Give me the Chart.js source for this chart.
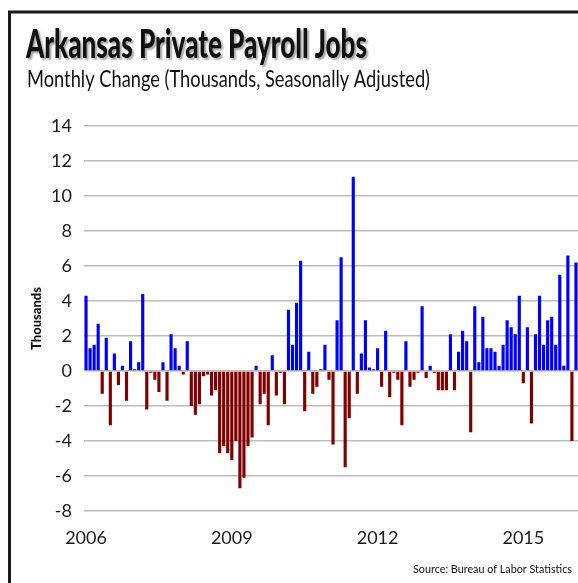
<!DOCTYPE html>
<html>
<head>
<meta charset="utf-8">
<title>Arkansas Private Payroll Jobs</title>
<script src="https://cdn.jsdelivr.net/npm/chart.js@4.4.0/dist/chart.umd.min.js"></script>
<style>
  html, body { margin: 0; padding: 0; background: #fff; }
  #wrap { width: 578px; height: 583px; position: relative; }
</style>
</head>
<body>
<div id="wrap"><canvas id="jobsChart"></canvas></div>
<script>
// Monthly change in Arkansas private payroll jobs (thousands, SA), Jan 2006 - Feb 2016
const startYear = 2006;
const jobChange = [
  4.3, 1.3, 1.5, 2.7, -1.3, 1.9, -3.1, 1.0, -0.8, 0.3, -1.7, 1.7,   // 2006
  0.1, 0.5, 4.4, -2.2, -0.1, -0.5, -1.2, 0.5, -1.7, 2.1, 1.3, 0.3,  // 2007
  -0.2, 1.7, -2.0, -2.5, -1.9, -0.3, -0.2, -1.4, -1.1, -4.7, -4.3, -4.7, // 2008
  -5.1, -4.0, -6.7, -6.1, -4.3, -3.8, 0.3, -1.9, -1.3, -3.1, 0.9, -1.4,  // 2009
  -0.1, -1.9, 3.5, 1.5, 3.9, 6.3, -2.3, 1.1, -1.3, -0.9, 0.1, 1.5,  // 2010
  -0.5, -4.2, 2.9, 6.5, -5.5, -2.7, 11.1, -1.3, 1.0, 2.9, 0.2, 0.1, // 2011
  1.3, -0.9, 2.3, -1.5, -0.1, -0.5, -3.1, 1.7, -0.9, -0.5, -0.1, 3.7, // 2012
  -0.4, 0.3, -0.1, -1.1, -1.1, -1.1, 2.1, -1.1, 1.1, 2.3, 1.7, -3.5,  // 2013
  3.7, 0.5, 3.1, 1.3, 1.3, 1.1, 0.3, 1.5, 2.9, 2.5, 2.1, 4.3,        // 2014
  -0.7, 2.5, -3.0, 2.1, 4.3, 1.5, 2.9, 3.1, 1.5, 5.5, 0.3, 6.6,      // 2015
  -4.0, 6.2                                                          // 2016
];
const yearTicks = ['2006', '2009', '2012', '2015'];
const yMin = -8, yMax = 14, yStep = 2;

const titleText = 'Arkansas Private Payroll Jobs';
const subtitleText = 'Monthly Change (Thousands, Seasonally Adjusted)';
const sourceText = 'Source: Bureau of Labor Statistics';

const months = [];
for (let i = 0; i < jobChange.length; i++) {
  const y = startYear + Math.floor(i / 12);
  months.push(y + '-' + String(i % 12 + 1).padStart(2, '0'));
}

// frame, heading and source note
const framePlugin = {
  id: 'frame',
  beforeDraw(chart) {
    const ctx = chart.ctx;
    ctx.save();
    ctx.fillStyle = '#fff';
    ctx.fillRect(0, 0, chart.width, chart.height);
    ctx.strokeStyle = '#1b1b1b';
    ctx.lineWidth = 3;
    ctx.beginPath();
    ctx.moveTo(9.5, chart.height);
    ctx.lineTo(9.5, 12);
    ctx.lineTo(chart.width, 12);
    ctx.stroke();
    ctx.restore();
  },
  afterDraw(chart) {
    const ctx = chart.ctx;
    ctx.save();
    ctx.textAlign = 'left';
    ctx.textBaseline = 'alphabetic';
    ctx.fillStyle = '#111';
    ctx.shadowColor = 'rgba(0,0,0,0.35)';
    ctx.shadowOffsetX = 2;
    ctx.shadowOffsetY = 2;
    ctx.shadowBlur = 2;
    ctx.font = '900 39px Lato';
    ctx.fillText(titleText, 26, 58, 341);
    ctx.shadowColor = 'transparent';
    ctx.font = '23px Lato';
    ctx.fillText(subtitleText, 27, 87, 403);
    ctx.font = '12px Lato';
    ctx.textAlign = 'right';
    ctx.fillText(sourceText, 572, 573, 159);
    ctx.restore();
  }
};

new Chart(document.getElementById('jobsChart'), {
  type: 'bar',
  data: {
    labels: months,
    datasets: [{
      data: jobChange,
      backgroundColor: jobChange.map(v => v >= 0 ? '#0000ff' : '#7f0000'),
      barPercentage: 0.78,
      categoryPercentage: 1
    }]
  },
  options: {
    responsive: true, maintainAspectRatio: false,
    animation: false,
    layout: { padding: { left: 22, right: 0, top: 126, bottom: 32 } },
    plugins: { legend: { display: false }, tooltip: { enabled: false } },
    scales: {
      x: {
        grid: { display: false, drawTicks: false },
        border: { display: false },
        ticks: {
          autoSkip: false, maxRotation: 0, minRotation: 0, padding: 16,
          color: '#1a1a1a', font: { family: 'Lato', size: 18 },
          callback(v, i) {
            const m = months[i];
            return m.endsWith('-01') && yearTicks.includes(m.slice(0, 4)) ? m.slice(0, 4) : null;
          }
        },
        afterFit(s) { s.height = 40; }
      },
      y: {
        min: yMin, max: yMax,
        ticks: { stepSize: yStep, padding: 12, color: '#1a1a1a', font: { family: 'Lato', size: 18 } },
        grid: { color: '#bcbcbc', lineWidth: 1.5, drawTicks: false },
        border: { display: false },
        title: {
          display: true, text: 'Thousands', color: '#111',
          font: { family: 'Lato', size: 13, weight: '900' },
          padding: { top: 7, bottom: 0 }
        },
        afterFit(s) { s.width = 84 - 22; }
      }
    }
  },
  plugins: [framePlugin]
});
</script>
</body>
</html>
